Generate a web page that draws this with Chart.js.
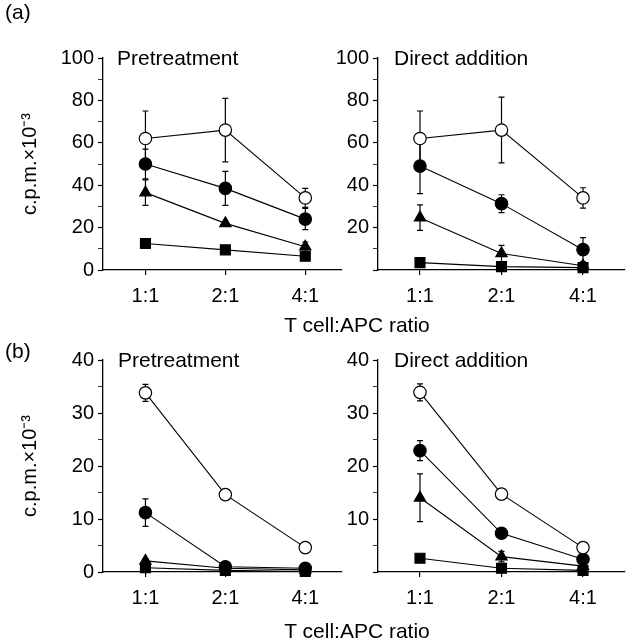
<!DOCTYPE html>
<html lang="en">
<head>
<meta charset="UTF-8">
<title>T cell:APC ratio</title>
<script src="https://cdn.jsdelivr.net/npm/chart.js"></script>
<style>
    body { margin: 0; background: #fff; }
    .fig { position: relative; width: 634px; height: 642px; overflow: hidden;
           font-family: 'Liberation Sans', Arial, sans-serif; color: #000; }
    .fig canvas { position: absolute; }
    .txt { position: absolute; font-size: 21px; line-height: 21px; white-space: nowrap; }
    .xt { width: 300px; text-align: center; }
</style>
</head>
<body>

<script>
    // categorias do eixo x
    var categorias = ['1:1', '2:1', '4:1'];

    // (a) Pretreatment
    var preA_aberto = [62, 66, 34];
    var preA_abertoErr = [13, 15, 4.5];
    var preA_cheio = [50, 38.5, 24];
    var preA_cheioErr = [7, 8, 5];
    var preA_tri = [36.5, 22, 11];
    var preA_triErr = [6, 1, 2.2];
    var preA_quad = [12.5, 9.5, 6.5];
    var preA_quadErr = [0.8, 0.8, 0.8];

    // (a) Direct addition
    var dirA_aberto = [62, 66, 34];
    var dirA_abertoErr = [13, 15.5, 4.8];
    var dirA_cheio = [49, 31.3, 9.6];
    var dirA_cheioErr = [13, 4.2, 5.7];
    var dirA_tri = [24.7, 7.8, 2];
    var dirA_triErr = [6, 3.8, 1];
    var dirA_quad = [3.5, 1.6, 1.1];
    var dirA_quadErr = [0.5, 0.5, 0.5];

    // (b) Pretreatment
    var preB_aberto = [33.8, 14.6, 4.6];
    var preB_abertoErr = [1.6, 0.5, 0.3];
    var preB_cheio = [11.2, 1.0, 0.7];
    var preB_cheioErr = [2.6, 0.3, 0.2];
    var preB_tri = [2.1, 0.7, 0.4];
    var preB_triErr = [0.4, 0.2, 0.1];
    var preB_quad = [0.8, 0.3, 0.1];
    var preB_quadErr = [0.2, 0.1, 0.1];

    // (b) Direct addition
    var dirB_aberto = [33.9, 14.7, 4.6];
    var dirB_abertoErr = [1.6, 0.6, 0.3];
    var dirB_cheio = [22.9, 7.3, 2.4];
    var dirB_cheioErr = [1.9, 0.8, 0.3];
    var dirB_tri = [14, 2.9, 1.1];
    var dirB_triErr = [4.5, 1, 0.3];
    var dirB_quad = [2.6, 0.7, 0.3];
    var dirB_quadErr = [0.3, 0.2, 0.1];

    // ticks do eixo y de cada linha
    var ticksA = [0, 20, 40, 60, 80, 100];
    var ticksB = [0, 10, 20, 30, 40];
</script>

<div class="fig">
    <canvas id="cA1" width="350" height="330" style="left:0;top:0"></canvas>
    <canvas id="cA2" width="334" height="330" style="left:300px;top:0"></canvas>
    <canvas id="cB1" width="350" height="342" style="left:0;top:300px"></canvas>
    <canvas id="cB2" width="334" height="342" style="left:300px;top:300px"></canvas>

    <div class="txt" style="left:5px;top:1px">(a)</div>
    <div class="txt" style="left:5px;top:340px">(b)</div>
    <div class="txt" style="left:117px;top:47px">Pretreatment</div>
    <div class="txt" style="left:394px;top:47px">Direct addition</div>
    <div class="txt" style="left:118px;top:349px">Pretreatment</div>
    <div class="txt" style="left:394px;top:349px">Direct addition</div>
    <div class="txt xt" style="left:207px;top:314px">T cell:APC ratio</div>
    <div class="txt xt" style="left:207px;top:620px">T cell:APC ratio</div>
</div>

<script>
    var fonte = { family: "'Liberation Sans', Arial, sans-serif", size: 20 };

    // barras de erro desenhadas antes dos pontos
    var barrasErro = {
        id: 'barrasErro',
        beforeDatasetsDraw: function (chart) {
            var ctx = chart.ctx;
            var sx = chart.scales.x, sy = chart.scales.y;
            ctx.save();
            ctx.strokeStyle = '#000';
            ctx.lineWidth = 1.2;
            chart.data.datasets.forEach(function (ds) {
                ds.erro.forEach(function (e, i) {
                    var v = ds.data[i].y;
                    var x = sx.getPixelForValue(i);
                    var y1 = sy.getPixelForValue(v + e);
                    var y2 = sy.getPixelForValue(Math.max(v - e, 0));
                    ctx.beginPath();
                    ctx.moveTo(x, y1); ctx.lineTo(x, y2);
                    ctx.moveTo(x - 3, y1); ctx.lineTo(x + 3, y1);
                    ctx.moveTo(x - 3, y2); ctx.lineTo(x + 3, y2);
                    ctx.stroke();
                });
            });
            ctx.restore();
        }
    };

    function serie(valores, erros, estilo, fundo, raio) {
        return {
            data: valores.map(function (v, i) { return { x: i, y: v }; }),
            erro: erros,
            borderColor: '#000',
            borderWidth: 1.1,
            pointStyle: estilo,
            pointRadius: raio,
            pointBackgroundColor: fundo,
            pointBorderColor: '#000',
            pointBorderWidth: 1.2,
            clip: false
        };
    }

    function painel(id, s, opt) {
        var passo = opt.maxY === 100 ? 10 : 5;
        var rotulos = opt.rotulos;
        new Chart(document.getElementById(id), {
            type: 'line',
            data: {
                datasets: [
                    serie(s[0], s[1], 'circle', '#fff', 6.2),
                    serie(s[2], s[3], 'circle', '#000', 6.2),
                    serie(s[4], s[5], 'triangle', '#000', 6.5),
                    serie(s[6], s[7], 'rect', '#000', 7)
                ]
            },
            options: {
                responsive: false,
                animation: false,
                layout: { padding: opt.pad },
                plugins: { legend: { display: false }, tooltip: { enabled: false } },
                scales: {
                    x: {
                        type: 'linear',
                        min: opt.xmin, max: opt.xmax,
                        afterBuildTicks: function (sc) {
                            sc.ticks = categorias.map(function (c, i) { return { value: i }; });
                        },
                        afterFit: function (sc) { sc.height = 40; },
                        ticks: {
                            autoSkip: false, maxRotation: 0, padding: 9, color: '#000', font: fonte,
                            callback: function (v) { return categorias[v]; }
                        },
                        grid: { drawOnChartArea: false, tickLength: 5, color: '#000', lineWidth: 1.2 },
                        border: { color: '#000', width: 1.3 }
                    },
                    y: {
                        min: 0, max: opt.maxY,
                        afterBuildTicks: function (sc) {
                            var t = [];
                            for (var v = 0; v <= opt.maxY; v += passo) t.push({ value: v });
                            sc.ticks = t;
                        },
                        afterFit: function (sc) { sc.width = opt.largY; },
                        ticks: {
                            autoSkip: false, padding: 4, color: '#000', font: fonte,
                            callback: function (v) {
                                if (rotulos.indexOf(v) < 0) return '';
                                if (v === 0 && !opt.zero) return '';
                                return v;
                            }
                        },
                        grid: {
                            drawOnChartArea: false, tickLength: 5, color: '#000',
                            // ticks menores sem rótulo ficam mais finos
                            tickWidth: function (c) { return rotulos.indexOf(c.tick.value) < 0 ? 0.8 : 1.2; }
                        },
                        border: { color: '#000', width: 1.3 },
                        title: {
                            display: opt.titulo, text: 'c.p.m.×10⁻³', color: '#000',
                            font: fonte, padding: { top: 4, bottom: 0 }
                        }
                    }
                }
            },
            plugins: [barrasErro]
        });
    }

    painel('cA1', [preA_aberto, preA_abertoErr, preA_cheio, preA_cheioErr, preA_tri, preA_triErr, preA_quad, preA_quadErr],
        { maxY: 100, rotulos: ticksA, zero: true, titulo: true, largY: 89,
          pad: { top: 58, right: 5, left: 14, bottom: 20 }, xmin: -0.531, xmax: 2.457 });
    painel('cA2', [dirA_aberto, dirA_abertoErr, dirA_cheio, dirA_cheioErr, dirA_tri, dirA_triErr, dirA_quad, dirA_quadErr],
        { maxY: 100, rotulos: ticksA, zero: false, titulo: false, largY: 78,
          pad: { top: 58, right: 9, left: 0, bottom: 20 }, xmin: -0.515, xmax: 2.515 });
    painel('cB1', [preB_aberto, preB_abertoErr, preB_cheio, preB_cheioErr, preB_tri, preB_triErr, preB_quad, preB_quadErr],
        { maxY: 40, rotulos: ticksB, zero: true, titulo: true, largY: 89,
          pad: { top: 60, right: 5, left: 14, bottom: 30 }, xmin: -0.531, xmax: 2.457 });
    painel('cB2', [dirB_aberto, dirB_abertoErr, dirB_cheio, dirB_cheioErr, dirB_tri, dirB_triErr, dirB_quad, dirB_quadErr],
        { maxY: 40, rotulos: ticksB, zero: false, titulo: false, largY: 78,
          pad: { top: 60, right: 9, left: 0, bottom: 30 }, xmin: -0.515, xmax: 2.515 });
</script>

</body>
</html>
